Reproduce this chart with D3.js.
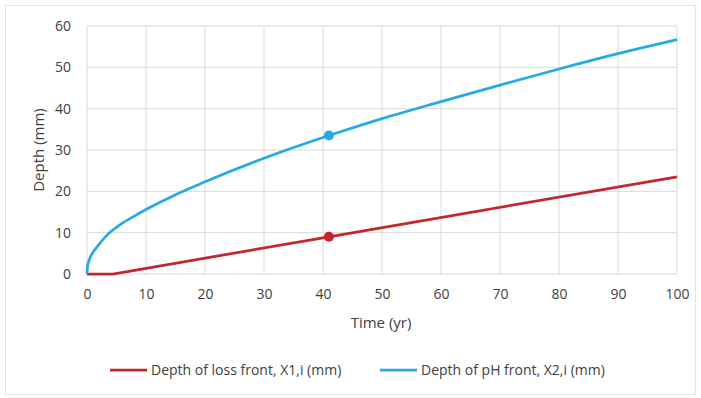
<!DOCTYPE html>
<html>
<head>
<meta charset="utf-8">
<script src="https://cdn.jsdelivr.net/npm/d3@7"></script>
<style>
  body { margin: 0; background: #fff; }
  text { font-family: "Open Sans", "Noto Sans", sans-serif; }
</style>
</head>
<body>
<div id="chart"></div>
<script>
// time (yr) and depth (mm)
const lossTime = [0, 4.4, 41, 100];
const lossDepth = [0, 0, 9, 23.5];
const phTime = [0, 0.1, 0.4, 1.2, 2, 3, 4, 5, 6, 8, 10, 15, 20, 30, 41, 50, 60, 70, 80, 90, 100];
const phDepth = [0, 1.9, 3.5, 5.6, 7.1, 8.8, 10.2, 11.3, 12.3, 14, 15.6, 19.2, 22.3, 28, 33.5, 37.6, 41.7, 45.7, 49.6, 53.3, 56.7];
const markerTime = [41];
const markerLoss = [9];
const markerPh = [33.5];
const xTicks = [0, 10, 20, 30, 40, 50, 60, 70, 80, 90, 100];
const yTicks = [0, 10, 20, 30, 40, 50, 60];
const seriesNames = ['Depth of loss front, X1,i (mm)', 'Depth of pH front, X2,i (mm)'];
const colors = ['#c1272d', '#27aae1'];

const width = 701;
const height = 398;
const margin = { top: 26, right: 24, bottom: 124, left: 87 };

const svg = d3.select('#chart')
  .append('svg')
  .attr('width', width)
  .attr('height', height);

// outer frame
svg.append('rect')
  .attr('x', 5.5).attr('y', 5.5)
  .attr('width', width - 11).attr('height', 389)
  .attr('fill', 'none')
  .attr('stroke', '#e3e3e3');

const x = d3.scaleLinear().domain([0, 100]).range([margin.left, width - margin.right]);
const y = d3.scaleLinear().domain([0, 60]).range([height - margin.bottom, margin.top]);

// gridlines
svg.append('g')
  .selectAll('line')
  .data(xTicks)
  .enter().append('line')
  .attr('x1', d => x(d)).attr('x2', d => x(d))
  .attr('y1', y(0)).attr('y2', y(60))
  .attr('stroke', '#d9d9d9').attr('stroke-width', 1);

svg.append('g')
  .selectAll('line')
  .data(yTicks)
  .enter().append('line')
  .attr('x1', x(0)).attr('x2', x(100))
  .attr('y1', d => y(d)).attr('y2', d => y(d))
  .attr('stroke', '#d9d9d9').attr('stroke-width', 1);

// axes (labels only)
const xAxis = svg.append('g')
  .attr('transform', `translate(0, ${y(0)})`)
  .call(d3.axisBottom(x).tickValues(xTicks).tickSize(0).tickPadding(15));
const yAxis = svg.append('g')
  .attr('transform', `translate(${x(0)}, 0)`)
  .call(d3.axisLeft(y).tickValues(yTicks).tickSize(0).tickPadding(16));
[xAxis, yAxis].forEach(a => {
  a.select('.domain').remove();
  a.selectAll('text')
    .attr('fill', '#404040')
    .style('font-size', '14px')
    .style('font-family', '"Open Sans", sans-serif');
});

// axis titles
svg.append('text')
  .attr('x', (x(0) + x(100)) / 2 - 1)
  .attr('y', 328)
  .attr('text-anchor', 'middle')
  .attr('fill', '#404040')
  .style('font-size', '15px')
  .text('Time (yr)');

svg.append('text')
  .attr('transform', `translate(44, ${(y(0) + y(60)) / 2}) rotate(-90)`)
  .attr('text-anchor', 'middle')
  .attr('fill', '#404040')
  .style('font-size', '15px')
  .text('Depth (mm)');

// lines
const line = d3.line()
  .x(d => x(d[0]))
  .y(d => y(d[1]));

svg.append('path')
  .datum(lossTime.map((t, i) => [t, lossDepth[i]]))
  .attr('d', line.curve(d3.curveLinear))
  .attr('fill', 'none')
  .attr('stroke', colors[0])
  .attr('stroke-width', 2.75);

svg.append('path')
  .datum(phTime.map((t, i) => [t, phDepth[i]]))
  .attr('d', line.curve(d3.curveMonotoneX))
  .attr('fill', 'none')
  .attr('stroke', colors[1])
  .attr('stroke-width', 2.75);

// markers
svg.selectAll('circle.loss')
  .data(markerTime)
  .enter().append('circle')
  .attr('class', 'loss')
  .attr('cx', d => x(d))
  .attr('cy', (d, i) => y(markerLoss[i]))
  .attr('r', 5)
  .attr('fill', colors[0]);

svg.selectAll('circle.ph')
  .data(markerTime)
  .enter().append('circle')
  .attr('class', 'ph')
  .attr('cx', d => x(d))
  .attr('cy', (d, i) => y(markerPh[i]))
  .attr('r', 5)
  .attr('fill', colors[1]);

// legend
const legendX = [110, 380];
const legend = svg.selectAll('g.legend')
  .data(seriesNames)
  .enter().append('g')
  .attr('class', 'legend')
  .attr('transform', (d, i) => `translate(${legendX[i]}, 370)`);

legend.append('line')
  .attr('x1', 0).attr('x2', 37)
  .attr('y1', 0).attr('y2', 0)
  .attr('stroke', (d, i) => colors[i])
  .attr('stroke-width', 2.75);

legend.append('text')
  .attr('x', 41)
  .attr('y', 5)
  .attr('fill', '#404040')
  .style('font-size', '14px')
  .text(d => d);
</script>
</body>
</html>
